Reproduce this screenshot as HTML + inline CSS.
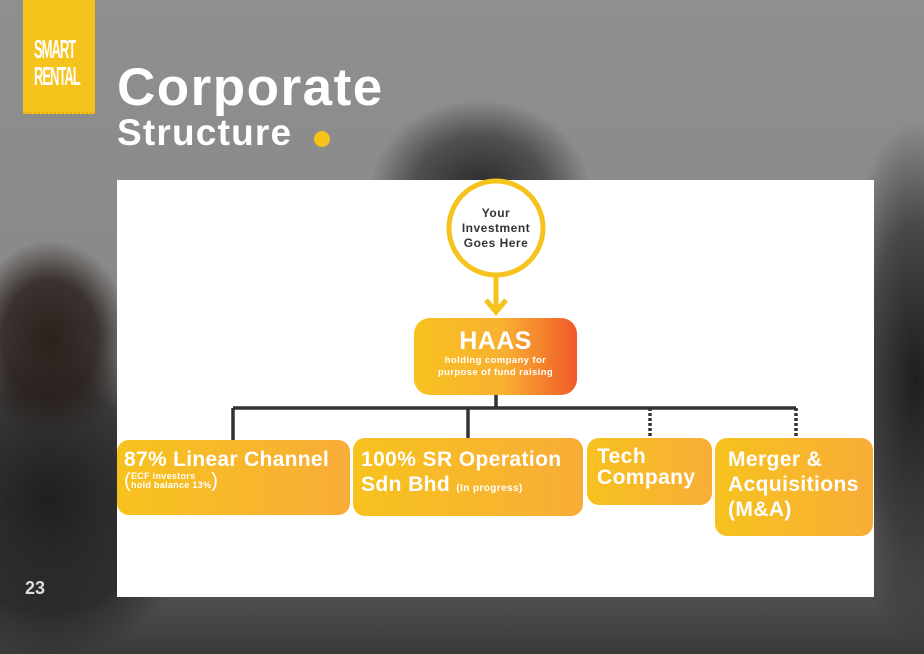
<!DOCTYPE html>
<html><head><meta charset="utf-8"><style>
*{margin:0;padding:0;box-sizing:border-box}
body{width:924px;height:654px;overflow:hidden;position:relative;font-family:"Liberation Sans",sans-serif;
background:
radial-gradient(ellipse 80px 100px at 50px 340px,#2a221d 0%,rgba(40,30,25,.8) 60%,rgba(0,0,0,0) 100%),
radial-gradient(ellipse 150px 160px at 50px 500px,#1f1f22 0%,rgba(30,30,32,.7) 70%,rgba(0,0,0,0) 100%),
radial-gradient(ellipse 110px 90px at 480px 190px,#2a2a2c 0%,rgba(40,40,42,.6) 60%,rgba(0,0,0,0) 100%),
radial-gradient(ellipse 80px 260px at 915px 380px,#1e1e1e 0%,rgba(30,30,30,.6) 60%,rgba(0,0,0,0) 100%),
linear-gradient(180deg,#8f8f8f 0%,#8a8a8a 40%,#6a6a6a 80%,#3a3a3a 100%);}
.panel{position:absolute;left:117px;top:180px;width:757px;height:417px;background:#fff}
.box{position:absolute;border-radius:12px;color:#fff;font-weight:bold;background:linear-gradient(90deg,#f7c21e,#f8ad38);letter-spacing:.4px}
</style></head><body>
<div style="position:absolute;left:23px;top:0;width:72px;height:114px;background:#f6c21c;border-bottom:2px dotted #e8b010"></div>
<div style="position:absolute;left:34px;top:36px;width:60px;color:#fff;font-weight:bold;font-size:26px;line-height:27px;letter-spacing:-2px;transform:scaleX(.5);transform-origin:left">SMART<br>RENTAL</div>
<div style="position:absolute;left:117px;top:58px;color:#fff;font-weight:bold;font-size:53px;line-height:60px;letter-spacing:1.5px">Corporate</div>
<div style="position:absolute;left:117px;top:112px;color:#fff;font-weight:bold;font-size:37px;line-height:42px;letter-spacing:1.2px">Structure</div>
<div style="position:absolute;left:314px;top:131px;width:16px;height:16px;border-radius:50%;background:#f6c21c"></div>
<div style="position:absolute;left:25px;top:578px;color:#ddd;font-weight:bold;font-size:18px">23</div>
<div class="panel"></div>
<svg style="position:absolute;left:0;top:0" width="924" height="654">
<circle cx="496" cy="228" r="47" fill="#fff" stroke="#f6c21c" stroke-width="5"/>
<line x1="496" y1="276" x2="496" y2="310" stroke="#f6c21c" stroke-width="5"/>
<polyline points="486,300 496,312 506,300" fill="none" stroke="#f6c21c" stroke-width="5"/>
<g stroke="#333" stroke-width="3.5" fill="none">
<line x1="496" y1="394" x2="496" y2="408"/>
<line x1="233" y1="408" x2="796" y2="408"/>
<line x1="233" y1="408" x2="233" y2="441"/>
<line x1="468" y1="408" x2="468" y2="439"/>
<line x1="650" y1="408" x2="650" y2="439" stroke-dasharray="3,2"/>
<line x1="796" y1="408" x2="796" y2="439" stroke-dasharray="3,2"/>
</g>
<text x="496" y="217" text-anchor="middle" font-family="Liberation Sans" font-weight="bold" font-size="12" fill="#333" letter-spacing=".5">Your</text>
<text x="496" y="232" text-anchor="middle" font-family="Liberation Sans" font-weight="bold" font-size="12" fill="#333" letter-spacing=".5">Investment</text>
<text x="496" y="247" text-anchor="middle" font-family="Liberation Sans" font-weight="bold" font-size="12" fill="#333" letter-spacing=".5">Goes Here</text>
</svg>
<div class="box" style="left:414px;top:318px;width:163px;height:77px;border-radius:16px;background:linear-gradient(90deg,#f7c21e 0%,#f8b032 55%,#f05a28 100%);text-align:center">
<div style="font-size:25px;margin-top:9px;line-height:28px">HAAS</div>
<div style="font-size:9.5px;line-height:12px">holding company for<br>purpose of fund raising</div></div>
<div class="box" style="left:117px;top:440px;width:233px;height:75px;padding:8px 0 0 7px;letter-spacing:.3px">
<div style="font-size:21px;line-height:24px">87% Linear Channel</div>
<div style="font-size:9px;line-height:9px;display:flex;align-items:center"><span style="font-size:20px;font-weight:normal">(</span><span>ECF investors<br>hold balance 13%</span><span style="font-size:20px;font-weight:normal">)</span></div></div>
<div class="box" style="left:353px;top:438px;width:230px;height:78px;padding:9px 0 0 8px;font-size:21px;line-height:25px">100% SR Operation<br>Sdn Bhd <span style="font-size:10px">(In progress)</span></div>
<div class="box" style="left:587px;top:438px;width:125px;height:67px;padding:8px 0 0 10px;font-size:21px;line-height:21px">Tech<br>Company</div>
<div class="box" style="left:715px;top:438px;width:158px;height:98px;padding:9px 0 0 13px;font-size:21px;line-height:25px">Merger &amp;<br>Acquisitions<br>(M&amp;A)</div>
</body></html>
